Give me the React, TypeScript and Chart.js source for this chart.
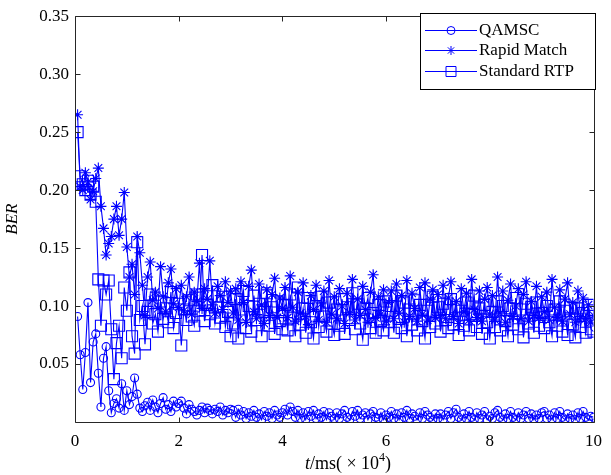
import React, { useEffect, useRef } from 'react';
import { Chart, registerables } from 'chart.js';

Chart.register(...registerables);

// Sampling instants (×10^4 ms), 200 samples every 0.05
const times: number[] = Array.from({ length: 200 }, (_, i) => Math.round((i + 1) * 5) / 100);

const xTickValues = [0, 2, 4, 6, 8, 10];
const yTickValues = [0.05, 0.1, 0.15, 0.2, 0.25, 0.3, 0.35];

const seriesNames = ['QAMSC', 'Rapid Match', 'Standard RTP'];

const qamsc = [
  0.091, 0.058, 0.028, 0.060, 0.103, 0.034, 0.069, 0.076, 0.042, 0.013, 0.055, 0.065, 0.027, 0.008, 0.016, 0.020, 0.012, 0.033, 0.010, 0.027,
  0.015, 0.022, 0.038, 0.024, 0.012, 0.009, 0.014, 0.017, 0.010, 0.019, 0.013, 0.008, 0.016, 0.021, 0.011, 0.015, 0.009, 0.018, 0.013, 0.016,
  0.018, 0.012, 0.007, 0.015, 0.011, 0.009, 0.006, 0.010, 0.013, 0.008, 0.012, 0.010, 0.007, 0.011, 0.009, 0.013, 0.006, 0.010, 0.008, 0.011,
  0.010, 0.004, 0.011, 0.006, 0.009, 0.003, 0.008, 0.005, 0.010, 0.004, 0.007, 0.002, 0.009, 0.005, 0.008, 0.003, 0.010, 0.006, 0.004, 0.008,
  0.011, 0.006, 0.013, 0.009, 0.004, 0.010, 0.003, 0.008, 0.002, 0.009, 0.005, 0.010, 0.003, 0.007, 0.004, 0.009, 0.002, 0.008, 0.005, 0.003,
  0.008, 0.003, 0.007, 0.010, 0.004, 0.002, 0.009, 0.005, 0.010, 0.003, 0.006, 0.008, 0.002, 0.007, 0.009, 0.004, 0.003, 0.008, 0.002, 0.006,
  0.004, 0.009, 0.003, 0.007, 0.002, 0.008, 0.004, 0.010, 0.003, 0.007, 0.005, 0.002, 0.008, 0.003, 0.009, 0.006, 0.004, 0.002, 0.007, 0.003,
  0.007, 0.002, 0.006, 0.009, 0.003, 0.008, 0.011, 0.004, 0.002, 0.007, 0.003, 0.009, 0.004, 0.002, 0.008, 0.003, 0.006, 0.009, 0.002, 0.005,
  0.003, 0.008, 0.010, 0.004, 0.002, 0.007, 0.003, 0.009, 0.004, 0.002, 0.008, 0.003, 0.006, 0.009, 0.003, 0.007, 0.002, 0.006, 0.003, 0.008,
  0.009, 0.003, 0.006, 0.002, 0.008, 0.003, 0.009, 0.004, 0.002, 0.007, 0.003, 0.006, 0.002, 0.008, 0.003, 0.009, 0.004, 0.002, 0.005, 0.004,
];

const rapidMatch = [
  0.265, 0.203, 0.200, 0.215, 0.207, 0.192, 0.199, 0.210, 0.219, 0.186, 0.167, 0.144, 0.154, 0.160, 0.175, 0.186, 0.161, 0.175, 0.198, 0.151,
  0.125, 0.136, 0.110, 0.160, 0.146, 0.118, 0.092, 0.125, 0.138, 0.105, 0.112, 0.098, 0.134, 0.108, 0.095, 0.120, 0.132, 0.102, 0.115, 0.099,
  0.118, 0.096, 0.108, 0.125, 0.093, 0.112, 0.104, 0.137, 0.098, 0.115, 0.106, 0.139, 0.101, 0.094, 0.117, 0.109, 0.097, 0.121, 0.103, 0.113,
  0.094, 0.115, 0.088, 0.121, 0.103, 0.086, 0.117, 0.131, 0.095, 0.089, 0.119, 0.101, 0.085, 0.114, 0.092, 0.110, 0.124, 0.090, 0.107, 0.098,
  0.116, 0.090, 0.126, 0.099, 0.087, 0.112, 0.094, 0.120, 0.091, 0.084, 0.109, 0.097, 0.118, 0.088, 0.102, 0.113, 0.086, 0.122, 0.093, 0.108,
  0.089, 0.115, 0.100, 0.085, 0.111, 0.094, 0.123, 0.088, 0.106, 0.092, 0.117, 0.097, 0.086, 0.112, 0.127, 0.090, 0.108, 0.093, 0.114, 0.087,
  0.103, 0.113, 0.089, 0.119, 0.094, 0.109, 0.086, 0.122, 0.091, 0.111, 0.098, 0.087, 0.116, 0.093, 0.120, 0.088, 0.106, 0.114, 0.090, 0.110,
  0.092, 0.118, 0.089, 0.107, 0.121, 0.091, 0.104, 0.085, 0.115, 0.095, 0.111, 0.088, 0.123, 0.097, 0.090, 0.113, 0.087, 0.106, 0.116, 0.093,
  0.109, 0.088, 0.125, 0.094, 0.113, 0.086, 0.105, 0.119, 0.091, 0.100, 0.115, 0.089, 0.110, 0.121, 0.087, 0.104, 0.092, 0.117, 0.090, 0.108,
  0.095, 0.112, 0.088, 0.123, 0.099, 0.090, 0.114, 0.087, 0.106, 0.120, 0.093, 0.103, 0.086, 0.113, 0.091, 0.107, 0.089, 0.101, 0.086, 0.092,
];

const standardRTP = [
  0.250, 0.212, 0.205, 0.200, 0.208, 0.196, 0.203, 0.190, 0.123, 0.083, 0.122, 0.110, 0.122, 0.080, 0.037, 0.068, 0.083, 0.055, 0.116, 0.096,
  0.129, 0.074, 0.059, 0.155, 0.088, 0.100, 0.067, 0.095, 0.110, 0.085, 0.093, 0.078, 0.104, 0.089, 0.098, 0.086, 0.112, 0.081, 0.094, 0.102,
  0.066, 0.097, 0.088, 0.105, 0.091, 0.083, 0.110, 0.096, 0.144, 0.087, 0.101, 0.093, 0.118, 0.085, 0.099, 0.090, 0.108, 0.082, 0.095, 0.074,
  0.085, 0.106, 0.072, 0.097, 0.113, 0.081, 0.100, 0.078, 0.109, 0.088, 0.102, 0.074, 0.095, 0.111, 0.083, 0.099, 0.076, 0.104, 0.087, 0.080,
  0.101, 0.079, 0.110, 0.090, 0.074, 0.116, 0.084, 0.098, 0.077, 0.107, 0.086, 0.072, 0.100, 0.082, 0.108, 0.091, 0.078, 0.103, 0.085, 0.075,
  0.097, 0.083, 0.106, 0.076, 0.099, 0.088, 0.111, 0.080, 0.102, 0.085, 0.071, 0.098, 0.107, 0.081, 0.094, 0.077, 0.101, 0.087, 0.079, 0.104,
  0.086, 0.100, 0.077, 0.109, 0.089, 0.081, 0.103, 0.074, 0.097, 0.084, 0.105, 0.079, 0.101, 0.087, 0.072, 0.096, 0.082, 0.108, 0.085, 0.099,
  0.078, 0.102, 0.088, 0.081, 0.106, 0.084, 0.099, 0.075, 0.096, 0.083, 0.103, 0.079, 0.093, 0.109, 0.082, 0.098, 0.076, 0.101, 0.086, 0.072,
  0.095, 0.082, 0.104, 0.079, 0.100, 0.087, 0.074, 0.098, 0.084, 0.107, 0.080, 0.097, 0.073, 0.102, 0.085, 0.099, 0.077, 0.103, 0.083, 0.094,
  0.081, 0.100, 0.086, 0.074, 0.097, 0.083, 0.104, 0.078, 0.096, 0.075, 0.099, 0.084, 0.073, 0.098, 0.082, 0.094, 0.077, 0.101, 0.080, 0.078,
];

const BLUE = '#0000ff';
const AXIS = '#262626';
const SERIF = '"Liberation Serif", "Times New Roman", serif';

const toPoints = (vals: number[]) => vals.map((v, i) => ({ x: times[i], y: v }));

function drawMarker(ctx: CanvasRenderingContext2D, kind: string, x: number, y: number) {
  ctx.beginPath();
  if (kind === 'circle') {
    ctx.arc(x, y, 4, 0, Math.PI * 2);
  } else if (kind === 'star') {
    const r = 4.5;
    const d = r * Math.SQRT1_2;
    ctx.moveTo(x - r, y); ctx.lineTo(x + r, y);
    ctx.moveTo(x, y - r); ctx.lineTo(x, y + r);
    ctx.moveTo(x - d, y - d); ctx.lineTo(x + d, y + d);
    ctx.moveTo(x - d, y + d); ctx.lineTo(x + d, y - d);
  } else {
    ctx.rect(x - 5, y - 5, 10, 10);
  }
  ctx.stroke();
}

const framePlugin = {
  id: 'matlabFrame',
  afterDatasetsDraw(chart: any) {
    const { ctx, chartArea: a, scales } = chart;
    const xs = scales.x;
    const ys = scales.y;
    ctx.save();
    ctx.strokeStyle = AXIS;
    ctx.lineWidth = 1;
    const L = Math.round(a.left) + 0.5;
    const R = Math.round(a.right) + 0.5;
    const T = Math.round(a.top) + 0.5;
    const B = Math.round(a.bottom) + 0.5;
    ctx.beginPath();
    ctx.rect(L, T, R - L, B - T);
    ctx.stroke();
    const tl = 5;
    ctx.beginPath();
    xTickValues.forEach((v) => {
      const px = Math.round(xs.getPixelForValue(v)) + 0.5;
      ctx.moveTo(px, B); ctx.lineTo(px, B - tl);
      ctx.moveTo(px, T); ctx.lineTo(px, T + tl);
    });
    yTickValues.forEach((v) => {
      const py = Math.round(ys.getPixelForValue(v)) + 0.5;
      ctx.moveTo(L, py); ctx.lineTo(L + tl, py);
      ctx.moveTo(R, py); ctx.lineTo(R - tl, py);
    });
    ctx.stroke();

    // axis titles
    ctx.fillStyle = '#000';
    ctx.textBaseline = 'alphabetic';
    ctx.save();
    ctx.translate(17, (a.top + a.bottom) / 2);
    ctx.rotate(-Math.PI / 2);
    ctx.font = `italic 17px ${SERIF}`;
    ctx.textAlign = 'center';
    ctx.fillText('BER', 0, 0);
    ctx.restore();

    ctx.textAlign = 'left';
    const base = 469;
    const fMain = `18px ${SERIF}`;
    const fIt = `italic 18px ${SERIF}`;
    const fSup = `12px ${SERIF}`;
    const parts = [
      { t: 't', f: fIt, dy: 0 },
      { t: '/ms( × 10', f: fMain, dy: 0 },
      { t: '4', f: fSup, dy: -8 },
      { t: ')', f: fMain, dy: 0 },
    ];
    let total = 0;
    parts.forEach((p) => { ctx.font = p.f; total += ctx.measureText(p.t).width; });
    let cx = 348 - total / 2;
    parts.forEach((p) => {
      ctx.font = p.f;
      ctx.fillText(p.t, cx, base + p.dy);
      cx += ctx.measureText(p.t).width;
    });

    // legend
    const lx = 420.5, ly = 13.5, lw = 175, lh = 76;
    ctx.fillStyle = '#fff';
    ctx.fillRect(lx, ly, lw, lh);
    ctx.strokeStyle = '#000';
    ctx.strokeRect(lx, ly, lw, lh);
    const kinds = ['circle', 'star', 'rect'];
    const rows = [30, 50, 71];
    ctx.font = `17px ${SERIF}`;
    ctx.textBaseline = 'middle';
    seriesNames.forEach((name, i) => {
      const y = rows[i] + 0.5;
      ctx.strokeStyle = BLUE;
      ctx.beginPath();
      ctx.moveTo(425, y); ctx.lineTo(477, y);
      ctx.stroke();
      drawMarker(ctx, kinds[i], 451, y);
      ctx.fillStyle = '#000';
      ctx.fillText(name, 479, rows[i] + 1);
    });
    ctx.restore();
  },
};

export default function App() {
  const ref = useRef<HTMLCanvasElement | null>(null);
  useEffect(() => {
    document.body.style.margin = '0';
    const canvas = ref.current;
    if (!canvas) return;
    const common = {
      borderColor: BLUE,
      borderWidth: 1.1,
      pointBorderColor: BLUE,
      pointBackgroundColor: 'rgba(0,0,0,0)',
      pointBorderWidth: 1.1,
      fill: false,
      tension: 0,
    };
    const chart = new Chart(canvas, {
      type: 'line',
      data: {
        datasets: [
          { ...common, label: seriesNames[0], data: toPoints(qamsc), pointStyle: 'circle', pointRadius: 4, order: 2 },
          { ...common, label: seriesNames[1], data: toPoints(rapidMatch), pointStyle: 'star', pointRadius: 5.5, order: 1 },
          { ...common, label: seriesNames[2], data: toPoints(standardRTP), pointStyle: 'rect', pointRadius: 7.8, order: 0 },
        ],
      },
      options: {
        animation: false,
        responsive: false,
        maintainAspectRatio: false,
        layout: { padding: { top: 4, right: 9, left: 0, bottom: 0 } },
        plugins: { legend: { display: false }, tooltip: { enabled: false } },
        scales: {
          x: {
            type: 'linear',
            min: 0,
            max: 10,
            grid: { display: false, drawTicks: false },
            border: { display: false },
            afterBuildTicks: (s: any) => { s.ticks = xTickValues.map((v) => ({ value: v })); },
            afterFit: (s: any) => { s.height = 53; },
            ticks: {
              color: '#000',
              font: { family: SERIF, size: 17 },
              padding: 9,
              maxRotation: 0,
              callback: (v: any) => String(v),
            },
          },
          y: {
            type: 'linear',
            min: 0,
            max: 0.35,
            grid: { display: false, drawTicks: false },
            border: { display: false },
            afterBuildTicks: (s: any) => { s.ticks = yTickValues.map((v) => ({ value: v })); },
            afterFit: (s: any) => { s.width = 75; },
            ticks: {
              color: '#000',
              font: { family: SERIF, size: 17 },
              padding: 6,
              callback: (v: any) => Number(v).toFixed(2),
            },
          },
        },
      },
      plugins: [framePlugin],
    });
    return () => chart.destroy();
  }, []);
  return (
    <div style={{ width: 611, height: 475, position: 'relative' }}>
      <canvas ref={ref} width={611} height={475} style={{ display: 'block', width: 611, height: 475 }} />
    </div>
  );
}
